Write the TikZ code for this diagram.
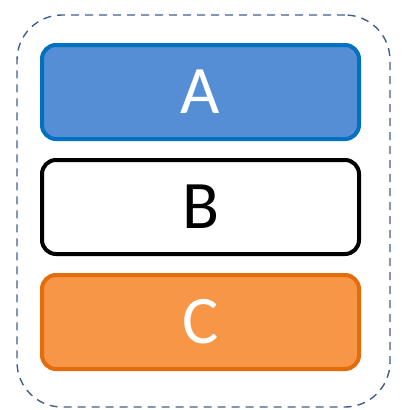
\documentclass[tikz,border=0pt]{standalone}
\usepackage{fontspec}
\setmainfont{Carlito}
\usetikzlibrary{positioning}
\definecolor{layerBlue}{HTML}{558ED5}
\definecolor{layerBlueLine}{HTML}{0070C0}
\definecolor{layerOrange}{HTML}{F79646}
\definecolor{layerOrangeLine}{HTML}{E46C0A}
\definecolor{frameSlate}{HTML}{3F5F8F}

\tikzset{
  layerbox/.style={draw,line width=4pt,rounded corners=14pt,
                   minimum width=317pt,minimum height=94pt,
                   font=\fontsize{68}{68}\selectfont,inner sep=0pt},
}
\newcommand{\layerlabel}[1]{\raisebox{-3pt}{#1}}

\begin{document}
\begin{tikzpicture}[x=1pt,y=-1pt]
\useasboundingbox (0,0) rectangle (405,410);
\node[draw=frameSlate,line width=1.4pt,dash pattern=on 8pt off 6pt,
      rounded corners=45pt,minimum width=373pt,minimum height=392pt]
      (frame) at (203.5,211) {};
\node[layerbox,fill=layerBlue,draw=layerBlueLine,text=white] (a) at (200.5,92) {\layerlabel{A}};
\node[layerbox,fill=white,draw=black,below=17pt of a] (b) {\layerlabel{B}};
\node[layerbox,fill=layerOrange,draw=layerOrangeLine,text=white,below=17pt of b] (c) {\layerlabel{C}};
\end{tikzpicture}
\end{document}
